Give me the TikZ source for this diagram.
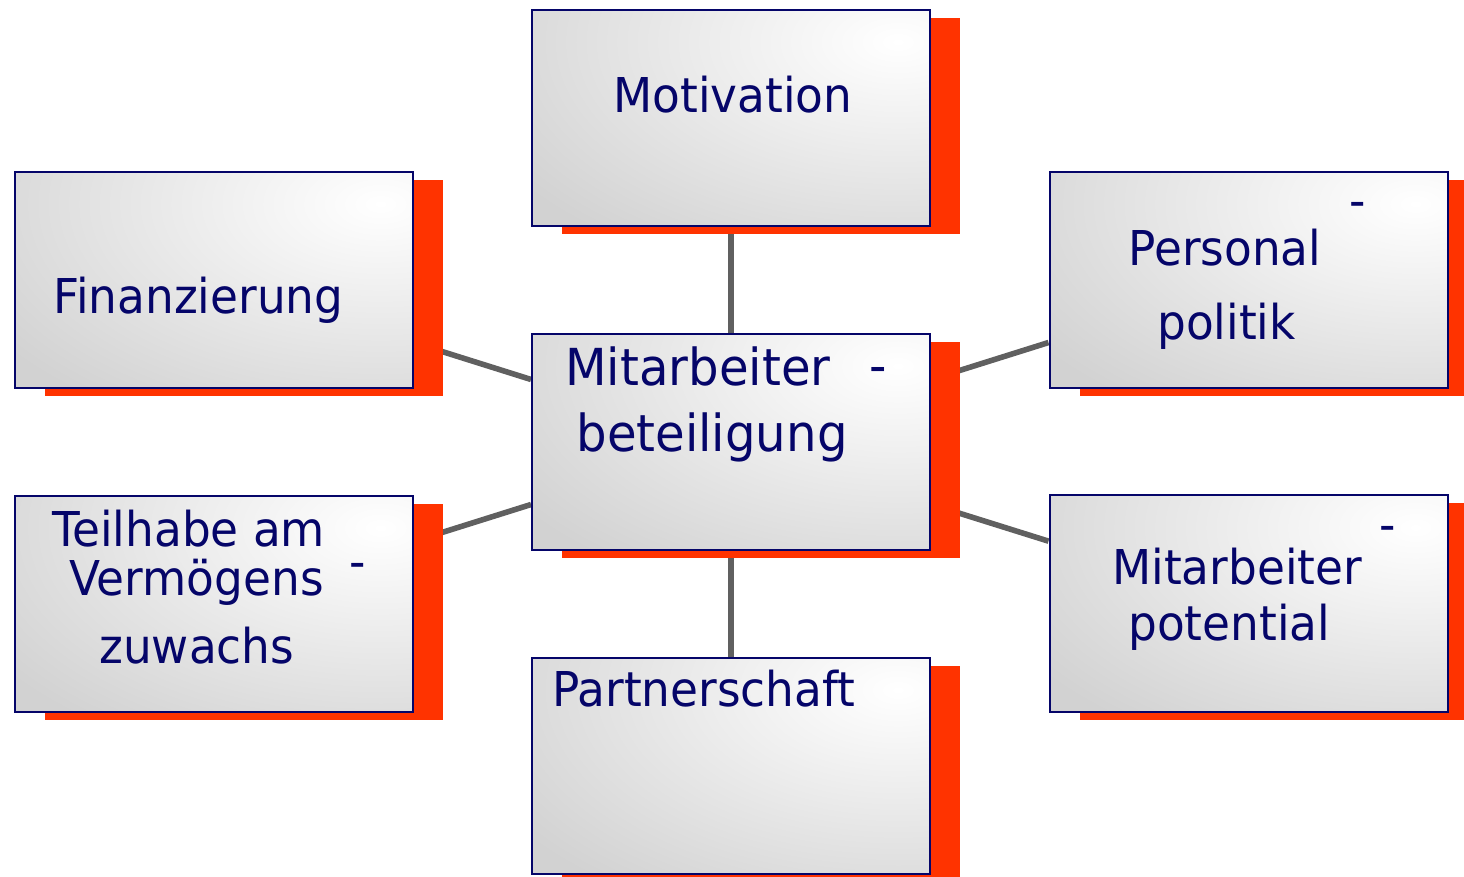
\documentclass[tikz,border=0pt]{standalone}
\usepackage{fontspec}
\setmainfont{DejaVu Sans}[FakeStretch=0.945]
\usetikzlibrary{shadows,backgrounds}

\definecolor{navy}{RGB}{5,5,105}
\definecolor{boxgray}{RGB}{210,210,210}
\definecolor{shadowred}{RGB}{255,51,0}
\definecolor{linkgray}{RGB}{96,96,96}

\tikzset{
  panel/.style={draw=navy, line width=1pt, minimum width=199pt, minimum height=108pt, inner sep=0pt,
    path picture={
      \fill[boxgray] (path picture bounding box.south west) rectangle (path picture bounding box.north east);
      \shade[inner color=white, outer color=boxgray] ([xshift=-16pt,yshift=-16pt]path picture bounding box.north east) ellipse [x radius=230pt, y radius=125pt];
    },
    drop shadow={shadow xshift=15pt, shadow yshift=-4pt, fill=shadowred, opacity=1}},
  boxtext/.style={anchor=base west, inner sep=0pt, text=navy, font=\fontsize{24}{28}\selectfont},
  link/.style={draw=linkgray, line width=2.8pt}
}

\begin{document}
\begin{tikzpicture}[x=0.5pt,y=-0.5pt]
    \useasboundingbox (0,0) rectangle (1464,877);

    % Boxes
    \node (mot) [panel] at (731,118) {};
    \node (fin) [panel] at (213.5,280) {};
    \node (pers) [panel] at (1248.5,280) {};
    \node (ctr) [panel] at (731,442) {};
    \node (teil) [panel] at (213.5,604) {};
    \node (pot) [panel] at (1248.5,603.5) {};
    \node (part) [panel] at (731,766) {};

    % Links
    \begin{scope}[on background layer]
    \draw [link] (ctr) -- (mot);
    \draw [link] (ctr) -- (part);
    \draw [link] (ctr) -- (fin);
    \draw [link] (ctr) -- (teil);
    \draw [link] (ctr) -- (pers);
    \draw [link] (ctr) -- (pot);
    \end{scope}

    % Text Node
    \draw (613,113) node (motA) [boxtext] {Motivation};
    % Text Node
    \draw (53,314) node (finA) [boxtext] {Finanzierung};
    % Text Node
    \draw (565,386) node (ctrA) [boxtext, font=\fontsize{25.5}{30}\selectfont] {Mitarbeiter};
    \draw (869,384) node (ctrB) [boxtext, font=\fontsize{25.5}{30}\selectfont] {-};
    \draw (576,452) node (ctrC) [boxtext, font=\fontsize{25.5}{30}\selectfont] {beteiligung};
    % Text Node
    \draw (1349,218) node (persA) [boxtext] {-};
    \draw (1128,266) node (persB) [boxtext] {Personal};
    \draw (1157,340) node (persC) [boxtext] {politik};
    % Text Node
    \draw (52,546) node (teilA) [boxtext] {Teilhabe am};
    \draw (69,596) node (teilB) [boxtext] {Vermögens};
    \draw (349,579) node (teilC) [boxtext] {-};
    \draw (99,663) node (teilD) [boxtext] {zuwachs};
    % Text Node
    \draw (1379,542) node (potA) [boxtext] {-};
    \draw (1112,584) node (potB) [boxtext] {Mitarbeiter};
    \draw (1128,640) node (potC) [boxtext] {potential};
    % Text Node
    \draw (552,706) node (partA) [boxtext] {Partnerschaft};

\end{tikzpicture}
\end{document}
